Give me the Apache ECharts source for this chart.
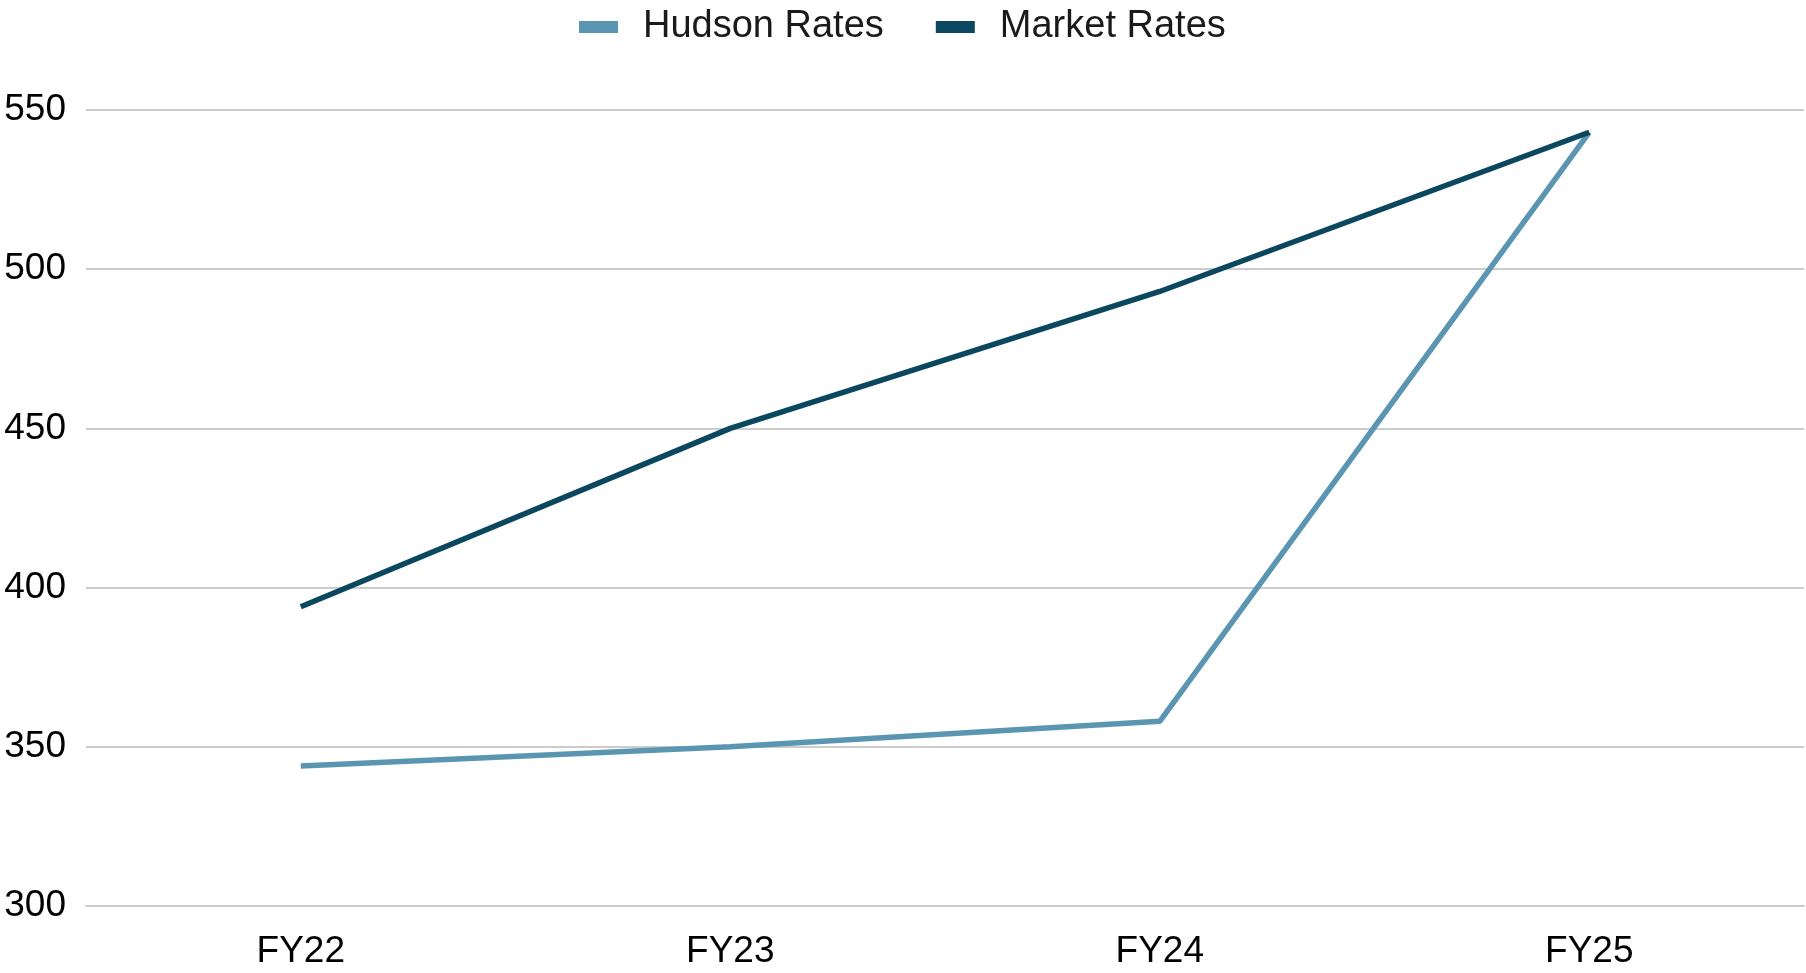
<!DOCTYPE html>
<html>
<head>
<meta charset="utf-8">
<title>Hudson vs Market Rates</title>
<script src="https://cdn.jsdelivr.net/npm/echarts@6/dist/echarts.min.js"></script>
<style>
    html, body { margin: 0; padding: 0; background: #fff; }
    #main { width: 1806px; height: 973px; }
</style>
</head>
<body>
<div id="main"></div>
<script type="text/javascript">
    // data
    var years = ['FY22', 'FY23', 'FY24', 'FY25'];
    var hudsonRates = [344, 350, 358, 543];
    var marketRates = [394, 450, 493, 543];

    var myChart = echarts.init(document.getElementById('main'));

    var option = {
        animation: false,
        textStyle: { fontFamily: 'Liberation Sans, Arial, sans-serif' },
        legend: {
            left: 574,
            top: 3,
            icon: 'rect',
            itemWidth: 39,
            itemHeight: 12,
            itemGap: 52,
            textStyle: { fontSize: 38, color: '#1a1a1a', padding: [0, 0, 0, 20] },
            data: ['Hudson Rates', 'Market Rates']
        },
        grid: { left: 86, right: 2, top: 110, bottom: 67 },
        xAxis: {
            type: 'category',
            data: years,
            boundaryGap: true,
            axisLine: { show: true, lineStyle: { color: '#ccc', width: 2 } },
            axisTick: { show: false },
            axisLabel: { fontSize: 37, color: '#000', margin: 27 }
        },
        yAxis: {
            type: 'value',
            min: 300,
            max: 550,
            interval: 50,
            axisLine: { show: false },
            axisTick: { show: false },
            axisLabel: { fontSize: 37, color: '#000', margin: 20 },
            splitLine: { lineStyle: { color: '#ccc', width: 2 } }
        },
        series: [
            {
                name: 'Hudson Rates',
                type: 'line',
                data: hudsonRates,
                symbol: 'none',
                color: '#5a96b1',
                lineStyle: { width: 5.5, color: '#5a96b1' }
            },
            {
                name: 'Market Rates',
                type: 'line',
                data: marketRates,
                symbol: 'none',
                color: '#0c4760',
                lineStyle: { width: 5.5, color: '#0c4760' }
            }
        ]
    };

    myChart.setOption(option);
</script>
</body>
</html>
